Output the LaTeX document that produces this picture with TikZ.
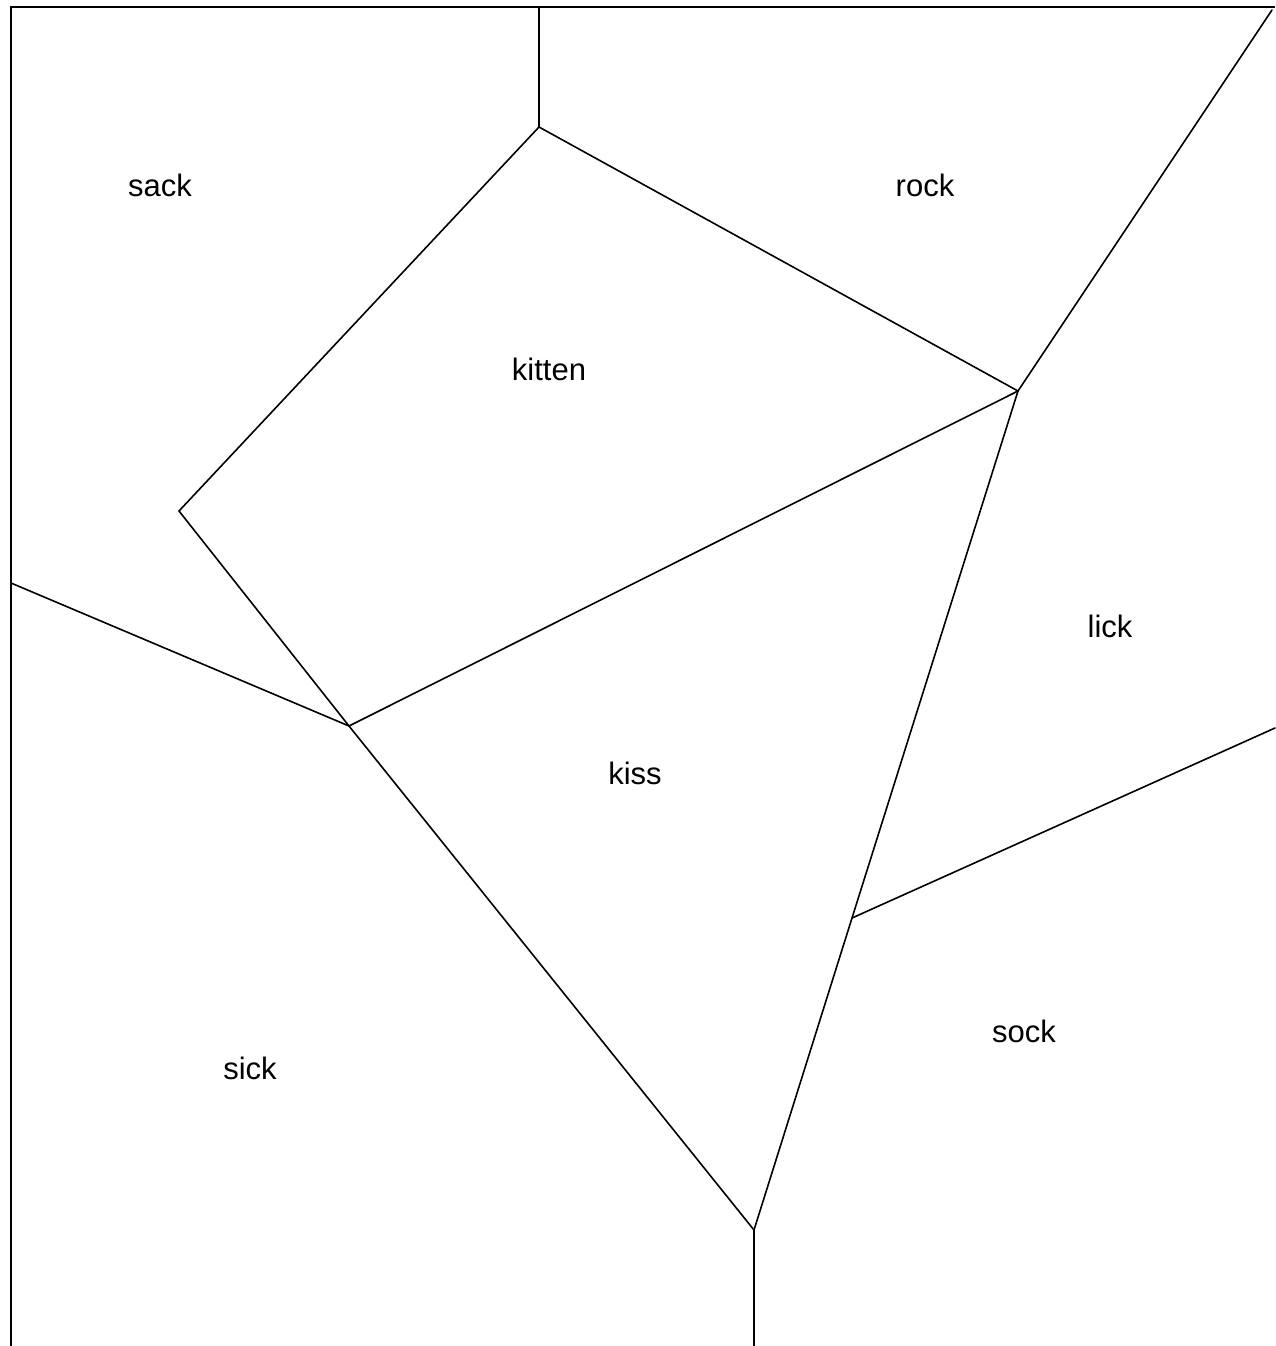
\documentclass[tikz,border=0pt]{standalone}
\usepackage{fontspec}
\setmainfont{Liberation Sans}
\begin{document}
\begin{tikzpicture}[x=1pt,y=-1pt,
  edge/.style={line width=1.6pt,line cap=round,line join=round},
  border/.style={line width=2.6pt},
  lbl/.style={font=\fontsize{31}{37}\selectfont,inner sep=0pt}]
\useasboundingbox (0,0) rectangle (1275,1346);
\fill[white] (0,0) rectangle (1275,1346);
% vertices
\coordinate (TA) at (539,7);
\coordinate (B) at (539,127);
\coordinate (C) at (1018,391);
\coordinate (D) at (179,511);
\coordinate (E) at (349,726);
\coordinate (F) at (754,1230);
\coordinate (G) at (852,918);
\coordinate (L) at (11,583);
\coordinate (TR) at (1272,10);
\coordinate (R) at (1275,728);
\coordinate (BF) at (754,1346);
% border
\draw[border] (11,1346) -- (11,7) -- (1275,7);
% edges
\draw[edge] (TA) -- (B);
\draw[edge] (B) -- (C);
\draw[edge] (B) -- (D);
\draw[edge] (D) -- (E);
\draw[edge] (E) -- (F);
\draw[edge] (L) -- (E);
\draw[edge] (E) -- (C);
\draw[edge] (C) -- (TR);
\draw[edge] (C) -- (G);
\draw[edge] (G) -- (F);
\draw[edge] (G) -- (R);
\draw[edge] (F) -- (BF);
% labels
\node[lbl] (sack) at (160,185) {sack};
\node[lbl] (rock) at (925,185) {rock};
\node[lbl] (kitten) at (549,369) {kitten};
\node[lbl] (lick) at (1110,626) {lick};
\node[lbl] (kiss) at (635,773) {kiss};
\node[lbl] (sick) at (250,1068) {sick};
\node[lbl] (sock) at (1024,1031) {sock};
\end{tikzpicture}
\end{document}
